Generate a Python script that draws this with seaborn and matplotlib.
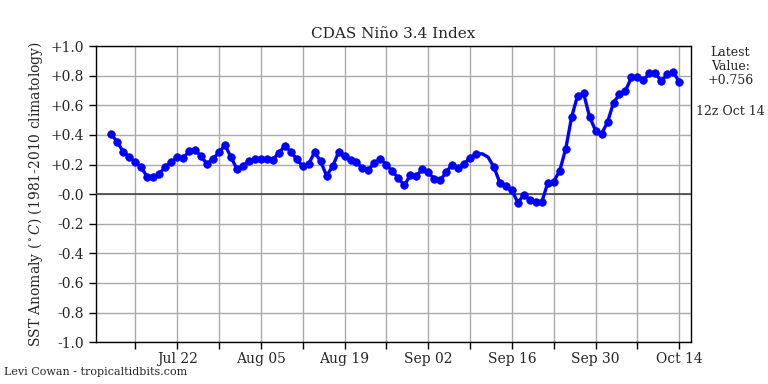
import matplotlib
matplotlib.use("Agg")
import matplotlib.pyplot as plt
import matplotlib.dates as mdates
from matplotlib.ticker import FixedLocator
import numpy as np
import pandas as pd
import seaborn as sns

# ---- data ----
start_date = "2014-07-11"
anomaly = [
    0.404, 0.350, 0.285, 0.250, 0.217, 0.180, 0.115, 0.113, 0.138, 0.183,  # Jul 11-20
    0.217, 0.248, 0.244, 0.289, 0.300, 0.255, 0.203, 0.239, 0.282, 0.330,  # Jul 21-30
    0.250, 0.169, 0.187, 0.226, 0.235, 0.237, 0.237, 0.233, 0.278, 0.325,  # Jul 31-Aug 9
    0.287, 0.237, 0.187, 0.203, 0.285, 0.221, 0.124, 0.187, 0.282, 0.255,  # Aug 10-19
    0.233, 0.214, 0.176, 0.165, 0.210, 0.237, 0.199, 0.153, 0.108, 0.060,  # Aug 20-29
    0.127, 0.120, 0.169, 0.146, 0.104, 0.092, 0.149, 0.199, 0.176, 0.205,  # Aug 30-Sep 8
    0.244, 0.268, 0.273, 0.250, 0.183, 0.075, 0.056, 0.025, -0.057, -0.005,  # Sep 9-18
    -0.039, -0.054, -0.054, 0.075, 0.085, 0.158, 0.305, 0.522, 0.666, 0.680,  # Sep 19-28
    0.522, 0.429, 0.407, 0.486, 0.617, 0.675, 0.698, 0.788, 0.793, 0.768,  # Sep 29-Oct 8
    0.816, 0.816, 0.763, 0.809, 0.827, 0.756,  # Oct 9-14
]
no_marker_dates = ["2014-09-11", "2014-09-12"]
major_tick_dates = ["2014-07-22", "2014-08-05", "2014-08-19", "2014-09-02",
                    "2014-09-16", "2014-09-30", "2014-10-14"]
minor_tick_dates = ["2014-07-15", "2014-07-29", "2014-08-12", "2014-08-26",
                    "2014-09-09", "2014-09-23", "2014-10-07"]
y_ticks = [1.0, 0.8, 0.6, 0.4, 0.2, 0.0, -0.2, -0.4, -0.6, -0.8, -1.0]
y_ticklabels = ["+1.0", "+0.8", "+0.6", "+0.4", "+0.2", "-0.0",
                "-0.2", "-0.4", "-0.6", "-0.8", "-1.0"]
latest_value = "+0.756"
latest_time = "12z Oct 14"
title = "CDAS Niño 3.4 Index"
ylabel = r"SST Anomaly ($^\circ C$) (1981-2010 climatology)"
credit = "Levi Cowan - tropicaltidbits.com"

dates = pd.date_range(start_date, periods=len(anomaly), freq="D")
df = pd.DataFrame({"date": dates, "anom": anomaly})
df["marked"] = ~df["date"].isin(pd.to_datetime(no_marker_dates))

# ---- style ----
sns.set_theme(style="white")
plt.rcParams["font.family"] = ["DejaVu Serif"]
plt.rcParams["mathtext.fontset"] = "dejavuserif"

fig = plt.figure(figsize=(7.68, 3.84), dpi=100)
ax = fig.add_axes([0.125, 0.109, 0.775, 0.771])

sns.lineplot(data=df, x="date", y="anom", ax=ax, color="#0000ff",
             linewidth=2.4, zorder=4)
sns.scatterplot(data=df[df["marked"]], x="date", y="anom", ax=ax,
                color="#0000ff", edgecolor="#0000ff", s=30, linewidth=0.5,
                zorder=5)

ax.axhline(0, color="#444444", linewidth=1.2, zorder=3)

ax.set_ylim(-1.0, 1.0)
ax.set_yticks(y_ticks)
ax.set_yticklabels(y_ticklabels)

ax.set_xlim(pd.Timestamp("2014-07-08 10:00"), pd.Timestamp("2014-10-16 00:00"))
ax.xaxis.set_major_locator(FixedLocator(mdates.date2num(pd.to_datetime(major_tick_dates))))
ax.xaxis.set_minor_locator(FixedLocator(mdates.date2num(pd.to_datetime(minor_tick_dates))))
ax.xaxis.set_major_formatter(mdates.DateFormatter("%b %d"))

ax.grid(True, which="both", axis="x", color="#aaaaaa", linewidth=1.0, zorder=0)
ax.grid(True, which="major", axis="y", color="#aaaaaa", linewidth=1.0, zorder=0)
ax.set_axisbelow(True)

ax.tick_params(axis="both", which="both", direction="out", length=5, width=1,
               color="black", labelsize=10, bottom=True, left=True)
ax.tick_params(axis="x", which="major", pad=2)

for s in ax.spines.values():
    s.set_visible(True)
    s.set_color("black")
    s.set_linewidth(1.0)

ax.set_xlabel("")
ax.set_ylabel(ylabel, fontsize=10)
ax.set_title(title, fontsize=11, pad=6)

fig.text(0.951, 0.88, "Latest\nValue:\n" + latest_value, ha="center", va="top",
         fontsize=9, linespacing=1.1)
fig.text(0.951, 0.71, latest_time, ha="center", va="center", fontsize=9)
fig.text(0.005, 0.018, credit, ha="left", va="bottom", fontsize=8)

fig.savefig("out.png", dpi=100)
